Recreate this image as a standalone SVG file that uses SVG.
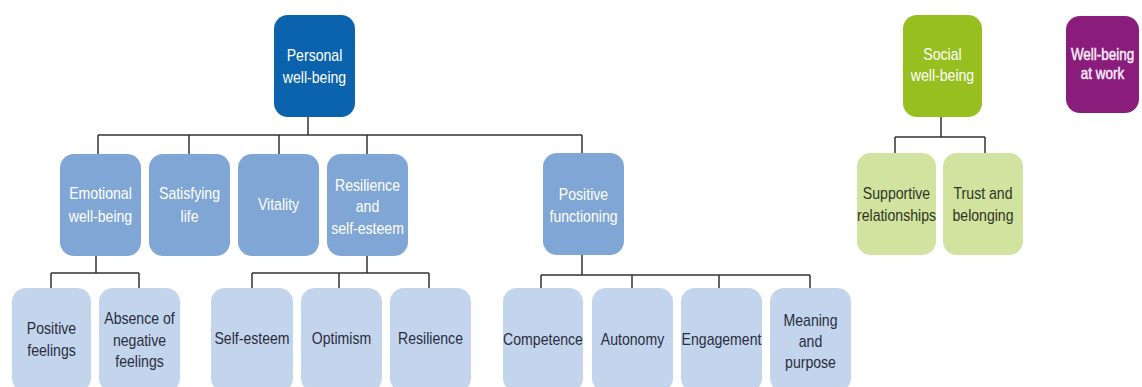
<svg xmlns="http://www.w3.org/2000/svg" width="1142" height="387" viewBox="0 0 1142 387">
<style>
text{font-family:"Liberation Sans",Arial,sans-serif;font-size:16px;text-anchor:middle}
.l1{fill:#0b63ae}.l2{fill:#80a6d5}.l3{fill:#c3d5ec}.g1{fill:#97bf1f}.g2{fill:#d2e29f}.p1{fill:#8a1c7c}
.tw{fill:#ffffff}.td{fill:#2a2d40}.tg{fill:#2f3524}
.tb{fill:#fbeefa;stroke:#fbeefa;stroke-width:0.45}
.c{fill:none;stroke:#333;stroke-width:1.5}
</style>
<rect width="1142" height="387" fill="#fff"/>
<g id="connectors">
<path class="c" d="M308 117V135M98 135H582M98 135V154M189 135V154M279 135V154M367 135V154M582 135V154"/>
<path class="c" d="M96 256V273M51 273H139M51 273V288M139 273V288"/>
<path class="c" d="M367 256V273M252 273H429M252 273V288M339 273V288M429 273V288"/>
<path class="c" d="M582 255V275M541 275H810M541 275V288M632 275V288M719 275V288M810 275V288"/>
<path class="c" d="M941 117V137M895 137H985M895 137V153M985 137V153"/>
</g>
<g id="personal"><rect class="l1" x="274" y="15" width="81" height="102" rx="14"/><text class="tw" transform="translate(314.5 61) scale(.88 1)">Personal</text><text class="tw" transform="translate(314.5 83) scale(.88 1)">well-being</text></g>
<g id="emotional"><rect class="l2" x="60" y="154" width="81" height="102" rx="14"/><text class="tw" transform="translate(100.5 199) scale(.88 1)">Emotional</text><text class="tw" transform="translate(100.5 222) scale(.88 1)">well-being</text></g>
<g id="satisfying"><rect class="l2" x="149" y="154" width="81" height="102" rx="14"/><text class="tw" transform="translate(189.5 199) scale(.88 1)">Satisfying</text><text class="tw" transform="translate(189.5 222) scale(.88 1)">life</text></g>
<g id="vitality"><rect class="l2" x="238" y="154" width="81" height="102" rx="14"/><text class="tw" transform="translate(278.5 210) scale(.88 1)">Vitality</text></g>
<g id="resilience-self-esteem"><rect class="l2" x="327" y="154" width="81" height="102" rx="14"/><text class="tw" transform="translate(367.5 191) scale(.88 1)">Resilience</text><text class="tw" transform="translate(367.5 212) scale(.88 1)">and</text><text class="tw" transform="translate(367.5 234) scale(.88 1)">self-esteem</text></g>
<g id="positive-functioning"><rect class="l2" x="543" y="153" width="81" height="102" rx="14"/><text class="tw" transform="translate(583.5 200) scale(.88 1)">Positive</text><text class="tw" transform="translate(583.5 222) scale(.88 1)">functioning</text></g>
<g id="positive-feelings"><rect class="l3" x="12" y="288" width="79" height="104" rx="14"/><text class="td" transform="translate(51.5 334) scale(.88 1)">Positive</text><text class="td" transform="translate(51.5 356) scale(.88 1)">feelings</text></g>
<g id="absence"><rect class="l3" x="99" y="288" width="81" height="104" rx="14"/><text class="td" transform="translate(139.5 324) scale(.88 1)">Absence of</text><text class="td" transform="translate(139.5 346) scale(.88 1)">negative</text><text class="td" transform="translate(139.5 367) scale(.88 1)">feelings</text></g>
<g id="self-esteem"><rect class="l3" x="211" y="288" width="82" height="104" rx="14"/><text class="td" transform="translate(252 344) scale(.88 1)">Self-esteem</text></g>
<g id="optimism"><rect class="l3" x="301" y="288" width="81" height="104" rx="14"/><text class="td" transform="translate(341.5 344) scale(.88 1)">Optimism</text></g>
<g id="resilience"><rect class="l3" x="390" y="288" width="81" height="104" rx="14"/><text class="td" transform="translate(430.5 344) scale(.88 1)">Resilience</text></g>
<g id="competence"><rect class="l3" x="503" y="288" width="80" height="104" rx="14"/><text class="td" transform="translate(543 345) scale(.88 1)">Competence</text></g>
<g id="autonomy"><rect class="l3" x="592" y="288" width="81" height="104" rx="14"/><text class="td" transform="translate(632.5 345) scale(.88 1)">Autonomy</text></g>
<g id="engagement"><rect class="l3" x="681" y="288" width="81" height="104" rx="14"/><text class="td" transform="translate(721.5 345) scale(.88 1)">Engagement</text></g>
<g id="meaning"><rect class="l3" x="770" y="288" width="81" height="104" rx="14"/><text class="td" transform="translate(810.5 326) scale(.88 1)">Meaning</text><text class="td" transform="translate(810.5 347) scale(.88 1)">and</text><text class="td" transform="translate(810.5 368) scale(.88 1)">purpose</text></g>
<g id="social"><rect class="g1" x="903" y="15" width="79" height="102" rx="14"/><text class="tw" transform="translate(942.5 60) scale(.88 1)">Social</text><text class="tw" transform="translate(942.5 81) scale(.88 1)">well-being</text></g>
<g id="supportive"><rect class="g2" x="857" y="153" width="79" height="102" rx="14"/><text class="tg" transform="translate(896.5 199) scale(.88 1)">Supportive</text><text class="tg" transform="translate(896.5 221) scale(.88 1)">relationships</text></g>
<g id="trust"><rect class="g2" x="943" y="153" width="80" height="102" rx="14"/><text class="tg" transform="translate(983 199) scale(.88 1)">Trust and</text><text class="tg" transform="translate(983 221) scale(.88 1)">belonging</text></g>
<g id="work"><rect class="p1" x="1066" y="16" width="73" height="97" rx="14"/><text class="tb" transform="translate(1102.5 60) scale(.84 1)">Well-being</text><text class="tb" transform="translate(1102.5 79) scale(.84 1)">at work</text></g>
</svg>
